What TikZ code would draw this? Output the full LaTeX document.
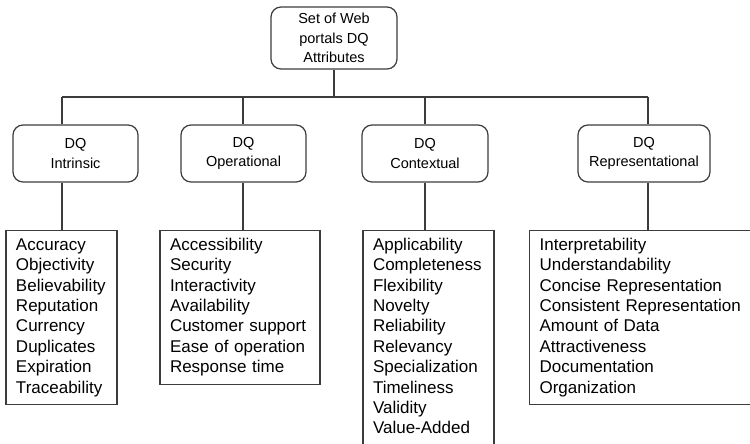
\documentclass[tikz,border=0pt]{standalone}
\usepackage{fontspec}
\setmainfont{Liberation Sans}

\definecolor{linegray}{RGB}{60,60,60}

\tikzset{
  group/.style={rectangle, rounded corners=5pt, draw=linegray, line width=0.6pt, align=center, minimum width=62.5pt, minimum height=28.5pt, inner sep=1pt, font=\fontsize{7.25}{9.75}\selectfont},
  attrlist/.style={rectangle, draw=linegray, line width=0.6pt, align=left, anchor=north, inner xsep=5pt, inner ysep=2.7pt, font=\fontsize{8.5}{10.2}\selectfont, execute at begin node=\strut, execute at end node=\strut},
  link/.style={draw=linegray, line width=0.6pt}
}

\begin{document}
\begin{tikzpicture}[x=0.5pt, y=-0.5pt]

  \useasboundingbox (0,0) rectangle (750,444);
  \clip (0,0) rectangle (750,444);

  % TOP
  \node [group, minimum width=63pt, minimum height=31pt, text depth=-3.5pt] (root) at (334,38) {Set of Web\\portals DQ\\Attributes};
  \coordinate (bus) at (334,97);

  % GROUPS
  \node [group] (intr) at (75.5,153.5) {DQ\\Intrinsic};
  \node [group] (oper) at (243.5,153.5) {DQ\\Operational};
  \node [group, minimum width=63pt] (cont) at (425,153.5) {DQ\\Contextual};
  \node [group, minimum width=66pt] (repr) at (644,153.5) {DQ\\Representational};

  % LISTS
  \node [attrlist, text width=45.5pt] (intrlist) at (61.5,230) {Accuracy\\Objectivity\\Believability\\Reputation\\Currency\\Duplicates\\Expiration\\Traceability};
  \node [attrlist, text width=70pt] (operlist) at (240,230) {Accessibility\\Security\\Interactivity\\Availability\\Customer support\\Ease of operation\\Response time};
  \node [attrlist, text width=55.5pt, text depth=100pt] (contlist) at (428.5,230) {Applicability\\Completeness\\Flexibility\\Novelty\\Reliability\\Relevancy\\Specialization\\Timeliness\\Validity\\Value-Added};
  \node [attrlist, anchor=north west, text width=140pt] (reprlist) at (529,230) {Interpretability\\Understandability\\Concise Representation\\Consistent Representation\\Amount of Data\\Attractiveness\\Documentation\\Organization};

  % LINKS
  \coordinate (s1) at (62,97);
  \coordinate (s2) at (243,97);
  \coordinate (s3) at (425,97);
  \coordinate (s4) at (648,97);

  \draw [link] (root) -- (bus);
  \draw [link] (s1) -- (s4);

  \draw [link] (s1) -- (s1 |- intr.north);
  \draw [link] (s2) -- (s2 |- oper.north);
  \draw [link] (s3) -- (s3 |- cont.north);
  \draw [link] (s4) -- (s4 |- repr.north);

  \draw [link] (intr.south -| s1) -- (s1 |- intrlist.north);
  \draw [link] (oper.south -| s2) -- (s2 |- operlist.north);
  \draw [link] (cont.south -| s3) -- (s3 |- contlist.north);
  \draw [link] (repr.south -| s4) -- (s4 |- reprlist.north);

\end{tikzpicture}
\end{document}
